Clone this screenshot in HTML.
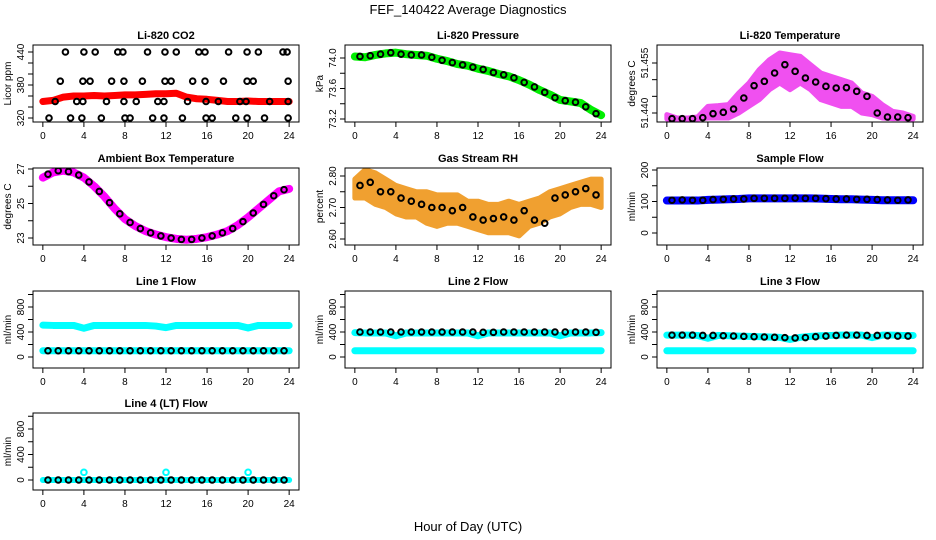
<!DOCTYPE html>
<html><head><meta charset="utf-8"><style>
body{margin:0;background:#fff;}
svg{display:block;font-family:"Liberation Sans",sans-serif;}
</style></head><body>
<svg id="chart" width="936" height="540" viewBox="0 0 936 540">
<text x="468" y="14" text-anchor="middle" font-size="13">FEF_140422  Average Diagnostics</text>
<text x="468" y="531" text-anchor="middle" font-size="13">Hour of Day (UTC)</text>
</svg>
<script>
// Hours 0..24 for colored series, 0.5..23.5 for black circle series
const hours = [0,1,2,3,4,5,6,7,8,9,10,11,12,13,14,15,16,17,18,19,20,21,22,23,24];
const halfHours = [0.5,1.5,2.5,3.5,4.5,5.5,6.5,7.5,8.5,9.5,10.5,11.5,12.5,13.5,14.5,15.5,16.5,17.5,18.5,19.5,20.5,21.5,22.5,23.5];
const xTicks = [0,4,8,12,16,20,24];

// CO2
const co2Band = [350,352,358,360,360,361,360,361,362,362,363,364,364,365,358,355,354,352,350,350,351,350,350,350,350];
const co2PointsX = [2.2,4,5.1,7.3,7.8,10.2,11.9,13,15.2,15.8,18.1,19.9,21,23.4,23.8, 1.7,3.9,4.6,6.7,7.9,9.7,11.9,12.5,14.6,15.8,17.6,19.9,20.5,23.9, 1.2,3.3,3.9,6.2,7.9,9.1,11.2,11.8,14.1,15.9,17.1,19.2,19.8,22.1,23.9, 0.6,2.7,3.8,5.7,8,8.5,10.7,11.8,13.6,15.9,16.5,18.8,19.9,21.6,23.9];
const co2PointsY = [440,440,440,440,440,440,440,440,440,440,440,440,440,440,440, 387,387,387,387,387,387,387,387,387,387,387,387,387,387, 350,350,350,350,350,350,350,350,350,350,350,350,350,350,350, 320,320,320,320,320,320,320,320,320,320,320,320,320,320,320];
// Pressure
const presBand = [74.02,74.01,74.04,74.06,74.07,74.05,74.04,74.03,73.99,73.96,73.92,73.90,73.86,73.83,73.79,73.76,73.71,73.65,73.58,73.52,73.45,73.43,73.41,73.32,73.25];
const presBlack = [74.02,74.03,74.05,74.07,74.05,74.04,74.04,74.01,73.97,73.94,73.91,73.88,73.85,73.81,73.78,73.74,73.68,73.62,73.55,73.48,73.44,73.42,73.36,73.27];
// Li-820 temperature
const tempLow = [51.4382,51.4382,51.4382,51.4382,51.4385,51.4385,51.4385,51.4400,51.4420,51.4440,51.4470,51.4490,51.4470,51.4490,51.4470,51.4440,51.4430,51.4420,51.4420,51.4400,51.4395,51.4385,51.4383,51.4383,51.4382];
const tempHigh = [51.4395,51.4385,51.4385,51.4388,51.4420,51.4422,51.4425,51.4460,51.4490,51.4530,51.4560,51.4580,51.4575,51.4570,51.4545,51.4520,51.4510,51.4500,51.4490,51.4460,51.4450,51.4425,51.4405,51.4400,51.4390];
const tempBlack = [51.4383,51.4383,51.4383,51.4386,51.4398,51.4402,51.4412,51.4445,51.4482,51.4495,51.4520,51.4545,51.4525,51.4505,51.4493,51.4480,51.4475,51.4476,51.4465,51.4450,51.4400,51.4388,51.4388,51.4386];
// Ambient box temperature
const ambBand = [26.5,26.8,26.9,26.8,26.5,26.0,25.4,24.7,24.1,23.7,23.4,23.2,23.05,22.95,22.9,22.95,23.05,23.2,23.4,23.75,24.2,24.7,25.2,25.7,25.85];
const ambBlack = [26.7,26.9,26.85,26.65,26.25,25.7,25.05,24.4,23.9,23.55,23.3,23.12,23.0,22.92,22.92,23.0,23.12,23.3,23.55,23.95,24.45,24.95,25.45,25.8];
// Gas stream RH
const rhLow = [2.73,2.73,2.71,2.70,2.68,2.67,2.67,2.65,2.64,2.65,2.65,2.64,2.63,2.62,2.62,2.62,2.61,2.64,2.65,2.67,2.68,2.70,2.71,2.71,2.70];
const rhHigh = [2.79,2.82,2.81,2.79,2.77,2.76,2.75,2.75,2.74,2.74,2.74,2.72,2.72,2.71,2.71,2.72,2.71,2.72,2.73,2.75,2.76,2.77,2.78,2.79,2.79];
const rhBlack = [2.77,2.78,2.75,2.75,2.73,2.72,2.71,2.70,2.70,2.69,2.70,2.67,2.66,2.665,2.67,2.66,2.69,2.66,2.65,2.73,2.74,2.75,2.76,2.74];
// Sample flow
const sfBand = [103,103,103,103,105,106,107,108,110,110,110,110,110,110,110,109,108,107,107,106,105,104,104,104,104];
const sfBlack = [104,105,104,104,106,107,108,108,110,110,110,110,111,110,110,109,108,108,107,107,106,105,104,105];
// Line flows
const l1Upper = [510,505,505,505,460,505,505,505,505,505,505,495,470,505,505,505,505,505,505,505,465,505,505,505,505];
const l1Lower = [100,100,100,100,100,100,100,100,100,100,100,100,100,100,100,100,100,100,100,100,100,100,100,100,100];
const l1Black = [100,100,100,100,100,100,100,100,100,100,100,100,100,100,100,100,100,100,100,100,100,100,100,100];
const l2Upper = [390,385,385,385,340,385,385,385,385,385,385,385,340,385,385,385,385,385,385,385,340,385,385,385,390];
const l2Lower = [100,100,100,100,100,100,100,100,100,100,100,100,100,100,100,100,100,100,100,100,100,100,100,100,100];
const l2Black = [400,400,400,400,400,400,400,400,400,400,400,400,395,395,400,400,400,400,400,400,400,400,400,395];
const l3Upper = [350,350,350,345,300,345,340,335,330,325,320,315,280,315,330,340,345,350,350,350,310,350,350,345,345];
const l3Lower = [100,100,100,100,100,100,100,100,100,100,100,100,100,100,100,100,100,100,100,100,100,100,100,100,100];
const l3Black = [350,350,350,345,345,340,335,330,325,320,315,310,305,310,325,335,345,350,350,345,345,340,335,335];
const l4Band = [0,0,0,0,0,0,0,0,0,0,0,0,0,0,0,0,0,0,0,0,0,0,0,0,0];
const l4OutX = [4,12,20];
const l4OutY = [120,120,120];
const l4Black = [0,0,0,0,0,0,0,0,0,0,0,0,0,0,0,0,0,0,0,0,0,0,0,0];

const NS = 'http://www.w3.org/2000/svg';
const svg = document.getElementById('chart');
function mk(tag, attrs, parent){
  const e = document.createElementNS(NS, tag);
  for (const k in attrs) e.setAttribute(k, attrs[k]);
  (parent||svg).appendChild(e);
  return e;
}
const colX = [33,345,657], rowY = [45,168,291,413], BW = 266, BH = 77;

function panel(cfg){
  const bx = colX[cfg.col], by = rowY[cfg.row];
  const g = mk('g', {});
  
  
  const xs = h => bx + (h + 0.96) / 25.92 * BW;
  const ys = v => cfg.p1 + (v - cfg.v1) * (cfg.p2 - cfg.p1) / (cfg.v2 - cfg.v1);
  const clip = 'clip-' + cfg.name;
  const cp = mk('clipPath', {id: clip}, g);
  mk('rect', {x: bx, y: by, width: BW, height: BH}, cp);
  const data = mk('g', {'clip-path': 'url(#' + clip + ')'}, g);
  
  
  cfg.draw(data, xs, ys);
  const box = mk('rect', {x: bx, y: by, width: BW, height: BH, fill: 'none', stroke: '#000', 'stroke-width': 1}, g);
  
  
  const bot = by + BH;
  xTicks.forEach(t => {
    const x = xs(t);
    mk('line', {x1: x, x2: x, y1: bot, y2: bot + 5, stroke: '#000'}, g);
    const tx = mk('text', {x: x, y: bot + 17, 'text-anchor': 'middle', 'font-size': 10}, g);
    tx.textContent = t;
    
    
  });
  cfg.yTicks.forEach(t => {
    const y = ys(t);
    mk('line', {x1: bx, x2: bx - 5, y1: y, y2: y, stroke: '#000'}, g);
  });
  cfg.yLabels.forEach(t => {
    const y = ys(t);
    const tx = mk('text', {x: 0, y: 0, transform: 'translate(' + (bx - 9) + ',' + y + ') rotate(-90)', 'text-anchor': 'middle', 'font-size': 10}, g);
    tx.textContent = t.toFixed(cfg.dec || 0);
    
    
  });
  const yt = mk('text', {transform: 'translate(' + (bx - 22) + ',' + (by + BH / 2) + ') rotate(-90)', 'text-anchor': 'middle', 'font-size': 10}, g);
  yt.textContent = cfg.ylab;
  
  
  const tt = mk('text', {x: bx + BW / 2, y: by - 6, 'text-anchor': 'middle', 'font-size': 11, 'font-weight': 'bold'}, g);
  tt.textContent = cfg.title;
  
  
}

function band(g, xs, ys, xArr, vals, color, w){
  const pts = xArr.map((h, i) => xs(h) + ',' + ys(vals[i])).join(' ');
  const pl = mk('polyline', {points: pts, fill: 'none', stroke: color, 'stroke-width': w, 'stroke-linejoin': 'round', 'stroke-linecap': 'round'}, g);
  
  
}
function area(g, xs, ys, lo, hi, color){
  const up = hours.map((h, i) => xs(h) + ',' + ys(hi[i]));
  const dn = hours.map((h, i) => xs(h) + ',' + ys(lo[i])).reverse();
  const pg = mk('polygon', {points: up.concat(dn).join(' '), fill: color, stroke: color, 'stroke-width': 5, 'stroke-linejoin': 'round'}, g);
  
  
}
function circles(g, xs, ys, xArr, vals, color){
  xArr.forEach((h, i) => {
    const c = mk('circle', {cx: xs(h), cy: ys(vals[i]), r: 2.8, fill: 'none', stroke: color, 'stroke-width': 2}, g);
    
    
  });
}

panel({name: 'li820-co2-panel', title: 'Li-820 CO2', ylab: 'Licor ppm', col: 0, row: 0, v1: 440, p1: 52, v2: 320, p2: 118,
  yTicks: [320,340,360,380,400,420,440], yLabels: [320,380,440],
  draw: (g, xs, ys) => { band(g, xs, ys, hours, co2Band, '#ff0000', 7); circles(g, xs, ys, co2PointsX, co2PointsY, '#000'); }});
panel({name: 'li820-pressure-panel', title: 'Li-820 Pressure', ylab: 'kPa', col: 1, row: 0, v1: 74.0, p1: 58, v2: 73.2, p2: 119, dec: 1,
  yTicks: [73.2,73.4,73.6,73.8,74.0], yLabels: [73.2,73.6,74.0],
  draw: (g, xs, ys) => { band(g, xs, ys, hours, presBand, '#00ee00', 8); circles(g, xs, ys, halfHours, presBlack, '#000'); }});
panel({name: 'li820-temperature-panel', title: 'Li-820 Temperature', ylab: 'degrees C', col: 2, row: 0, v1: 51.455, p1: 63, v2: 51.440, p2: 113, dec: 3,
  yTicks: [51.440,51.445,51.450,51.455], yLabels: [51.440,51.455],
  draw: (g, xs, ys) => { area(g, xs, ys, tempLow, tempHigh, '#f050f0'); circles(g, xs, ys, halfHours, tempBlack, '#000'); }});
panel({name: 'ambient-box-temperature-panel', title: 'Ambient Box Temperature', ylab: 'degrees C', col: 0, row: 1, v1: 27, p1: 169, v2: 23, p2: 238,
  yTicks: [23,24,25,26,27], yLabels: [23,25,27],
  draw: (g, xs, ys) => { band(g, xs, ys, hours, ambBand, '#ff00ff', 8); circles(g, xs, ys, halfHours, ambBlack, '#000'); }});
panel({name: 'gas-stream-rh-panel', title: 'Gas Stream RH', ylab: 'percent', col: 1, row: 1, v1: 2.80, p1: 176, v2: 2.60, p2: 239, dec: 2,
  yTicks: [2.60,2.65,2.70,2.75,2.80], yLabels: [2.60,2.70,2.80],
  draw: (g, xs, ys) => { area(g, xs, ys, rhLow, rhHigh, '#f0a030'); circles(g, xs, ys, halfHours, rhBlack, '#000'); }});
panel({name: 'sample-flow-panel', title: 'Sample Flow', ylab: 'ml/min', col: 2, row: 1, v1: 200, p1: 170, v2: 0, p2: 233,
  yTicks: [0,50,100,150,200], yLabels: [0,100,200],
  draw: (g, xs, ys) => { band(g, xs, ys, hours, sfBand, '#0000ff', 8); circles(g, xs, ys, halfHours, sfBlack, '#000'); }});
const flowTicks = [0,200,400,600,800,1000], flowLabels = [0,400,800];
panel({name: 'line1-flow-panel', title: 'Line 1 Flow', ylab: 'ml/min', col: 0, row: 2, v1: 800, p1: 307, v2: 0, p2: 357,
  yTicks: flowTicks, yLabels: flowLabels,
  draw: (g, xs, ys) => { band(g, xs, ys, hours, l1Upper, '#00ffff', 7); band(g, xs, ys, hours, l1Lower, '#00ffff', 7); circles(g, xs, ys, halfHours, l1Black, '#000'); }});
panel({name: 'line2-flow-panel', title: 'Line 2 Flow', ylab: 'ml/min', col: 1, row: 2, v1: 800, p1: 307, v2: 0, p2: 357,
  yTicks: flowTicks, yLabels: flowLabels,
  draw: (g, xs, ys) => { band(g, xs, ys, hours, l2Upper, '#00ffff', 7); band(g, xs, ys, hours, l2Lower, '#00ffff', 7); circles(g, xs, ys, halfHours, l2Black, '#000'); }});
panel({name: 'line3-flow-panel', title: 'Line 3 Flow', ylab: 'ml/min', col: 2, row: 2, v1: 800, p1: 307, v2: 0, p2: 357,
  yTicks: flowTicks, yLabels: flowLabels,
  draw: (g, xs, ys) => { band(g, xs, ys, hours, l3Upper, '#00ffff', 7); band(g, xs, ys, hours, l3Lower, '#00ffff', 7); circles(g, xs, ys, halfHours, l3Black, '#000'); }});
panel({name: 'line4-lt-flow-panel', title: 'Line 4 (LT) Flow', ylab: 'ml/min', col: 0, row: 3, v1: 800, p1: 429, v2: 0, p2: 480,
  yTicks: flowTicks, yLabels: flowLabels,
  draw: (g, xs, ys) => { band(g, xs, ys, hours, l4Band, '#00ffff', 6); circles(g, xs, ys, l4OutX, l4OutY, '#00ffff'); circles(g, xs, ys, halfHours, l4Black, '#000'); }});
</script>
</body></html>
